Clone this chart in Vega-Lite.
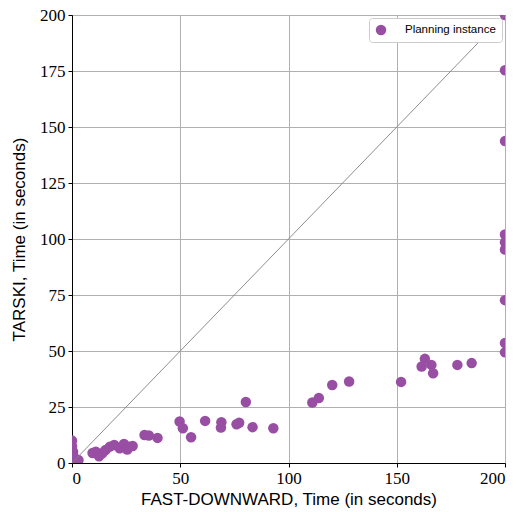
{
  "$schema": "https://vega.github.io/schema/vega-lite/v6.json",
  "width": 433,
  "height": 448,
  "autosize": {"type": "none"},
  "padding": {"left": 72, "top": 15, "right": 21, "bottom": 49},
  "background": "white",
  "config": {
    "view": {"stroke": "black", "strokeWidth": 1},
    "axis": {
      "grid": true,
      "gridColor": "#b0b0b0",
      "gridWidth": 1,
      "domainColor": "black",
      "domainWidth": 1,
      "tickColor": "black",
      "tickSize": 4,
      "labelFont": "Liberation Serif",
      "labelFontSize": 17,
      "labelColor": "black",
      "labelPadding": 3,
      "titleFont": "Liberation Sans",
      "titleFontSize": 17,
      "titleFontWeight": "normal",
      "titleColor": "black"
    },
    "legend": {
      "labelFont": "Liberation Sans",
      "labelFontSize": 11.5,
      "labelColor": "black"
    }
  },
  "datasets": {
    "pts": [
      {"fd": 0, "tarski": 10},
      {"fd": 0, "tarski": 7.5},
      {"fd": 0.5, "tarski": 5},
      {"fd": 1, "tarski": 2.5},
      {"fd": 0, "tarski": 1},
      {"fd": 3, "tarski": 1.3},
      {"fd": 9.5, "tarski": 4.5},
      {"fd": 11, "tarski": 5},
      {"fd": 12.5, "tarski": 3},
      {"fd": 14, "tarski": 4.3},
      {"fd": 15.5, "tarski": 5.8},
      {"fd": 17.5, "tarski": 7.3},
      {"fd": 19.5, "tarski": 8},
      {"fd": 22, "tarski": 6.6},
      {"fd": 24, "tarski": 8.5},
      {"fd": 25.5, "tarski": 6},
      {"fd": 26.5, "tarski": 7.3},
      {"fd": 28, "tarski": 7.6},
      {"fd": 33.5, "tarski": 12.5},
      {"fd": 35.5, "tarski": 12.3},
      {"fd": 39.5, "tarski": 11.2},
      {"fd": 49.7, "tarski": 18.5},
      {"fd": 51.2, "tarski": 15.5},
      {"fd": 55, "tarski": 11.5},
      {"fd": 61.5, "tarski": 18.8},
      {"fd": 69, "tarski": 18.2},
      {"fd": 68.8, "tarski": 15.8},
      {"fd": 76, "tarski": 17.3},
      {"fd": 77.2, "tarski": 18},
      {"fd": 80.3, "tarski": 27.2},
      {"fd": 83.4, "tarski": 16},
      {"fd": 93, "tarski": 15.5},
      {"fd": 111, "tarski": 27},
      {"fd": 114, "tarski": 29},
      {"fd": 120.2, "tarski": 34.8},
      {"fd": 128, "tarski": 36.4},
      {"fd": 152, "tarski": 36.2},
      {"fd": 161.5, "tarski": 43.1},
      {"fd": 163, "tarski": 46.5},
      {"fd": 166, "tarski": 43.8},
      {"fd": 166.8, "tarski": 40.1},
      {"fd": 178, "tarski": 43.8},
      {"fd": 184.6, "tarski": 44.6},
      {"fd": 200, "tarski": 200},
      {"fd": 200, "tarski": 175.3},
      {"fd": 200, "tarski": 143.7},
      {"fd": 200, "tarski": 102},
      {"fd": 200, "tarski": 98.5},
      {"fd": 200, "tarski": 95.3},
      {"fd": 200, "tarski": 72.7},
      {"fd": 200, "tarski": 53.6},
      {"fd": 200, "tarski": 49.4}
    ],
    "diag": [
      {"fd": 0, "tarski": 0},
      {"fd": 200, "tarski": 200}
    ]
  },
  "layer": [
    {
      "data": {"name": "pts"},
      "mark": {"type": "point", "filled": true, "opacity": 1, "size": 110, "clip": true},
      "encoding": {
        "x": {
          "field": "fd", "type": "quantitative",
          "scale": {"domain": [0, 200], "nice": false, "zero": false},
          "axis": {"values": [0, 50, 100, 150, 200], "title": "FAST-DOWNWARD, Time (in seconds)", "titlePadding": 5}
        },
        "y": {
          "field": "tarski", "type": "quantitative",
          "scale": {"domain": [0, 200], "nice": false, "zero": false},
          "axis": {"values": [0, 25, 50, 75, 100, 125, 150, 175, 200], "title": "TARSKI, Time (in seconds)", "titlePadding": 11}
        },
        "color": {
          "datum": "Planning instance",
          "type": "nominal",
          "scale": {"range": ["#984ea3"]},
          "legend": {
            "title": null,
            "orient": "top-right",
            "offset": 3,
            "fillColor": "white",
            "strokeColor": "#cccccc",
            "cornerRadius": 3,
            "padding": 6,
            "symbolType": "circle",
            "symbolSize": 110,
            "symbolOpacity": 1,
            "labelOffset": 18
          }
        }
      }
    },
    {
      "data": {"name": "diag"},
      "mark": {"type": "line", "color": "#808080", "strokeWidth": 0.9},
      "encoding": {
        "x": {"field": "fd", "type": "quantitative"},
        "y": {"field": "tarski", "type": "quantitative"}
      }
    }
  ]
}
